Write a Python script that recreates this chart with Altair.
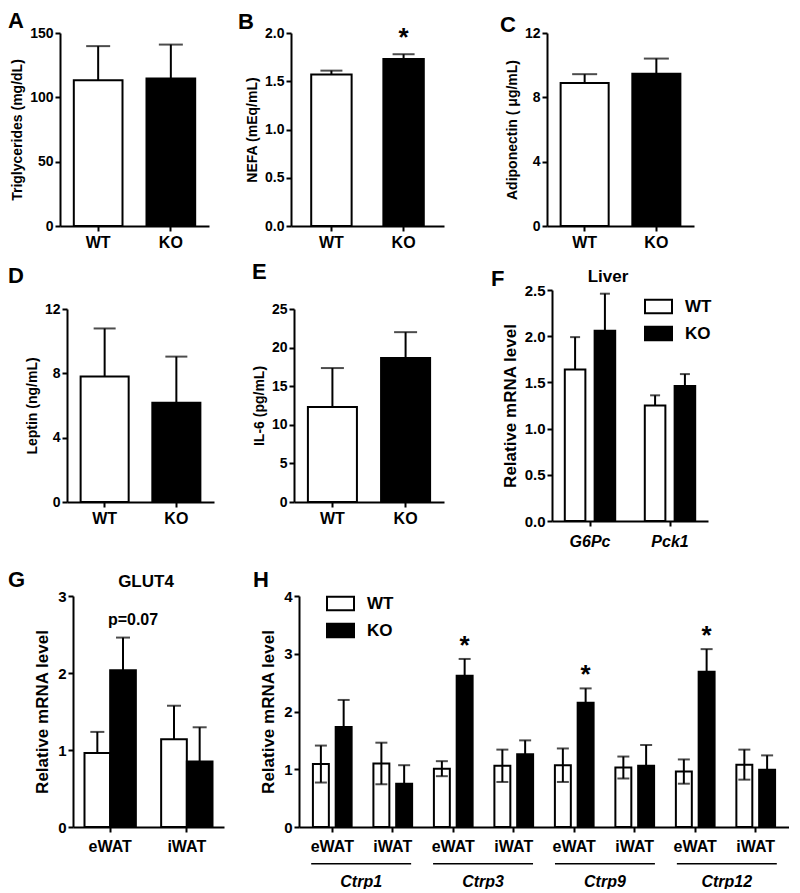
import altair as alt
import pandas as pd

GROUPS = ["WT", "KO"]
FILLS = ["white", "black"]

# ---- data ----
A_MEAN = [113.3, 114.6]
A_TOP = [139.8, 141.0]
B_MEAN = [1.57, 1.73]
B_TOP = [1.61, 1.78]
C_MEAN = [8.89, 9.46]
C_TOP = [9.44, 10.41]
D_MEAN = [7.81, 6.17]
D_TOP = [10.79, 9.04]
E_MEAN = [12.3, 18.65]
E_TOP = [17.35, 22.0]
E_TICKS = [0, 5, 10, 15, 20, 25]

F_GENES = ["G6Pc", "Pck1"]
F_WT_MEAN = [1.64, 1.25]
F_WT_TOP = [1.99, 1.36]
F_KO_MEAN = [2.06, 1.46]
F_KO_TOP = [2.46, 1.59]

G_TISSUES = ["eWAT", "iWAT"]
G_WT_MEAN = [0.96, 1.14]
G_WT_TOP = [1.235, 1.575]
G_KO_MEAN = [2.035, 0.85]
G_KO_TOP = [2.46, 1.295]

H_GENES = ["Ctrp1", "Ctrp3", "Ctrp9", "Ctrp12"]
H_TISSUES = ["eWAT", "iWAT"]
H_WT_MEAN = [1.09, 1.10, 1.01, 1.06, 1.07, 1.03, 0.96, 1.08]
H_WT_TOP = [1.41, 1.46, 1.14, 1.34, 1.36, 1.22, 1.17, 1.34]
H_KO_MEAN = [1.73, 0.75, 2.62, 1.26, 2.15, 1.06, 2.69, 0.99]
H_KO_TOP = [2.20, 1.07, 2.91, 1.50, 2.40, 1.42, 3.08, 1.24]
H_STARS = ["Ctrp3|eWAT", "Ctrp9|eWAT", "Ctrp12|eWAT"]


def letter_layer(letter, lx, ly):
    return alt.Chart(pd.DataFrame({"t": [letter]})).mark_text(
        fontSize=22, fontWeight="bold", align="left", baseline="alphabetic", color="black"
    ).encode(text="t:N", x=alt.value(lx), y=alt.value(ly))


def note_layer(text, cx, by, size):
    return alt.Chart(pd.DataFrame({"t": [text]})).mark_text(
        fontSize=size, fontWeight="bold", align="center", baseline="alphabetic", color="black"
    ).encode(text="t:N", x=alt.value(cx), y=alt.value(by))


def spacer(w, h):
    return alt.Chart(pd.DataFrame({"v": [0]})).mark_point(opacity=0).encode(
        x=alt.X("v:Q", axis=None), y=alt.Y("v:Q", axis=None)
    ).properties(width=w, height=h)


def simple_panel(letter, lpos, title, means, tops, ymax, ticks, fmt, w, h, pi, po, cap, star_dy=None):
    df = pd.DataFrame({"g": GROUPS, "v": means, "hi": tops})
    x = alt.X("g:N", sort=GROUPS,
              scale=alt.Scale(domain=GROUPS, paddingInner=pi, paddingOuter=po),
              axis=alt.Axis(title=None, labelAngle=0, labelFontSize=16, labelPadding=3))
    y = alt.Y("v:Q", scale=alt.Scale(domain=[0, ymax], nice=False),
              axis=alt.Axis(title=title, values=ticks, tickCount=len(ticks), format=fmt,
                            labelFontSize=14, titleFontSize=14, labelPadding=2, titlePadding=5,
                            labelFlush=False, labelOverlap=False))
    base = alt.Chart(df)
    bars = base.mark_bar(stroke="black", strokeWidth=2).encode(
        x=x, y=y,
        fill=alt.Fill("g:N", scale=alt.Scale(domain=GROUPS, range=FILLS), legend=None))
    err = base.mark_rule(color="black", strokeWidth=2).encode(x=x, y="v:Q", y2="hi:Q")
    caps = base.mark_tick(color="black", thickness=2, size=cap).encode(x=x, y="hi:Q")
    layers = [bars, err, caps]
    if star_dy is not None:
        sdf = pd.DataFrame({"g": ["KO"], "hi": [tops[1]], "s": ["*"]})
        layers.append(alt.Chart(sdf).mark_text(
            fontSize=26, fontWeight="bold", baseline="alphabetic", dy=star_dy, color="black"
        ).encode(x=x, y="hi:Q", text="s:N"))
    layers.append(letter_layer(letter, *lpos))
    return alt.layer(*layers).properties(width=w, height=h)


def legend_spec(lx, ly):
    return alt.Legend(title=None, orient="none", legendX=lx, legendY=ly,
                      symbolType="M-1,-0.5L1,-0.5L1,0.5L-1,0.5Z", symbolSize=729,
                      symbolStrokeColor="black", symbolStrokeWidth=2,
                      labelFontSize=17, labelFontWeight="bold", labelColor="black",
                      labelOffset=12, rowPadding=1, padding=0)


# ---------------- row 1 & 2 simple panels ----------------
H1 = 193
A = simple_panel("A", (-52, -5), "Triglycerides (mg/dL)", A_MEAN, A_TOP, 150, [0, 50, 100, 150], "d",
                 149, H1, 0.33, 0.19, 24)
B = simple_panel("B", (-53, -4), "NEFA (mEq/mL)", B_MEAN, B_TOP, 2.0, [0, 0.5, 1.0, 1.5, 2.0], ".1f",
                 153, H1, 0.44, 0.28, 22, star_dy=-8)
C = simple_panel("C", (-47, -1), "Adiponectin ( μg/mL)", C_MEAN, C_TOP, 12, [0, 4, 8, 12], "d",
                 147, H1, 0.33, 0.19, 25)
D = simple_panel("D", (-59, -26), "Leptin (ng/mL)", D_MEAN, D_TOP, 12, [0, 4, 8, 12], "d",
                 147, H1, 0.33, 0.19, 22)
E = simple_panel("E", (-42, -30), "IL-6 (pg/mL)", E_MEAN, E_TOP, 25, E_TICKS, "d",
                 150, H1, 0.33, 0.19, 23)

# ---------------- panel F ----------------
HF = 231
fdf = pd.DataFrame({"cat": F_GENES * 2, "grp": ["WT"] * 2 + ["KO"] * 2,
                    "v": F_WT_MEAN + F_KO_MEAN, "hi": F_WT_TOP + F_KO_TOP})
xF = alt.X("cat:N", sort=F_GENES,
           scale=alt.Scale(domain=F_GENES, paddingInner=0.37, paddingOuter=0.16),
           axis=alt.Axis(title=None, labelAngle=0, labelFontSize=16, labelFontStyle="italic",
                         labelPadding=7))
xoF = alt.XOffset("grp:N", sort=GROUPS,
                  scale=alt.Scale(domain=GROUPS, paddingInner=0.31, paddingOuter=0))
F_TICKS = [0, 0.5, 1.0, 1.5, 2.0, 2.5]
yF = alt.Y("v:Q", scale=alt.Scale(domain=[0, 2.5], nice=False),
           axis=alt.Axis(title="Relative mRNA level", values=F_TICKS, tickCount=len(F_TICKS),
                         format=".1f", labelFontSize=15, titleFontSize=17, labelPadding=2,
                         titlePadding=5, labelFlush=False, labelOverlap=False))
fb = alt.Chart(fdf)
F = alt.layer(
    fb.mark_bar(stroke="black", strokeWidth=2).encode(
        x=xF, xOffset=xoF, y=yF,
        fill=alt.Fill("grp:N", sort=GROUPS, scale=alt.Scale(domain=GROUPS, range=FILLS),
                      legend=legend_spec(92, 2))),
    fb.mark_rule(color="black", strokeWidth=2).encode(x=xF, xOffset=xoF, y="v:Q", y2="hi:Q"),
    fb.mark_tick(color="black", thickness=2, size=10).encode(x=xF, xOffset=xoF, y="hi:Q"),
    note_layer("Liver", 56, -8, 17),
    letter_layer("F", -61, -4),
).properties(width=156, height=HF)

# ---------------- panel G ----------------
gdf = pd.DataFrame({"cat": G_TISSUES * 2, "grp": ["WT"] * 2 + ["KO"] * 2,
                    "v": G_WT_MEAN + G_KO_MEAN, "hi": G_WT_TOP + G_KO_TOP})
xG = alt.X("cat:N", sort=G_TISSUES,
           scale=alt.Scale(domain=G_TISSUES, paddingInner=0.33, paddingOuter=0.15),
           axis=alt.Axis(title=None, labelAngle=0, labelFontSize=16, labelPadding=6))
xoG = alt.XOffset("grp:N", sort=GROUPS,
                  scale=alt.Scale(domain=GROUPS, paddingInner=0.0, paddingOuter=0))
yG = alt.Y("v:Q", scale=alt.Scale(domain=[0, 3], nice=False),
           axis=alt.Axis(title="Relative mRNA level", values=[0, 1, 2, 3], tickCount=4, format="d",
                         labelFontSize=15, titleFontSize=17, labelPadding=2, titlePadding=6,
                         labelFlush=False, labelOverlap=False))
gb = alt.Chart(gdf)
pdf = pd.DataFrame({"cat": ["eWAT"], "grp": ["KO"], "hi": [G_KO_TOP[0]], "t": ["p=0.07"]})
G = alt.layer(
    gb.mark_bar(stroke="black", strokeWidth=2).encode(
        x=xG, xOffset=xoG, y=yG,
        fill=alt.Fill("grp:N", sort=GROUPS, scale=alt.Scale(domain=GROUPS, range=FILLS), legend=None)),
    gb.mark_rule(color="black", strokeWidth=2).encode(x=xG, xOffset=xoG, y="v:Q", y2="hi:Q"),
    gb.mark_tick(color="black", thickness=2, size=14).encode(x=xG, xOffset=xoG, y="hi:Q"),
    alt.Chart(pdf).mark_text(fontSize=16, fontWeight="bold", baseline="alphabetic", dx=10, dy=-13,
                             color="black").encode(x=xG, xOffset=xoG, y="hi:Q", text="t:N"),
    note_layer("GLUT4", 73, -9, 17),
    letter_layer("G", -65, -9),
).properties(width=151, height=HF)

# ---------------- panel H ----------------
H_CATS = [f"{g}|{t}" for g in H_GENES for t in H_TISSUES]
hdf = pd.DataFrame({
    "cat": H_CATS * 2,
    "grp": ["WT"] * 8 + ["KO"] * 8,
    "v": H_WT_MEAN + H_KO_MEAN,
    "hi": H_WT_TOP + H_KO_TOP,
})
hdf["lo"] = 2 * hdf["v"] - hdf["hi"]
xH = alt.X("cat:N", sort=H_CATS,
           scale=alt.Scale(domain=H_CATS, paddingInner=0.36, paddingOuter=0.23),
           axis=alt.Axis(title=None, labelAngle=0, labelFontSize=16, labelPadding=6,
                         labelExpr="split(datum.label, '|')[1]"))
xoH = alt.XOffset("grp:N", sort=GROUPS,
                  scale=alt.Scale(domain=GROUPS, paddingInner=0.3, paddingOuter=0))
yH = alt.Y("v:Q", scale=alt.Scale(domain=[0, 4], nice=False),
           axis=alt.Axis(title="Relative mRNA level", values=[0, 1, 2, 3, 4], tickCount=5, format="d",
                         labelFontSize=15, titleFontSize=17, labelPadding=2, titlePadding=6,
                         labelFlush=False, labelOverlap=False))
hb = alt.Chart(hdf)
star_df = hdf[(hdf["grp"] == "KO") & (hdf["cat"].isin(H_STARS))].copy()
star_df["s"] = "*"
HH = 231
H_main = alt.layer(
    hb.mark_bar(stroke="black", strokeWidth=2).encode(
        x=xH, xOffset=xoH, y=yH,
        fill=alt.Fill("grp:N", sort=GROUPS, scale=alt.Scale(domain=GROUPS, range=FILLS),
                      legend=legend_spec(27, -7))),
    hb.mark_rule(color="black", strokeWidth=2).encode(x=xH, xOffset=xoH, y="lo:Q", y2="hi:Q"),
    hb.mark_tick(color="black", thickness=2, size=12).encode(x=xH, xOffset=xoH, y="hi:Q"),
    hb.mark_tick(color="black", thickness=2, size=12).encode(x=xH, xOffset=xoH, y="lo:Q"),
    alt.Chart(star_df).mark_text(fontSize=26, fontWeight="bold", baseline="alphabetic", dy=-5,
                                 color="black").encode(x=xH, xOffset=xoH, y="hi:Q", text="s:N"),
    letter_layer("H", -46, -9),
)
gene_df = pd.DataFrame({"gene": H_GENES})
H_genes = alt.Chart(gene_df).mark_rect(color="black").encode(
    x=alt.X("gene:N", sort=H_GENES,
            scale=alt.Scale(domain=H_GENES, paddingInner=0.18, paddingOuter=0.10),
            axis=alt.Axis(orient="bottom", title=None, domain=False, ticks=False, tickSize=0,
                          labelAngle=0, labelFontSize=16, labelFontStyle="italic",
                          labelPadding=46)),
    y=alt.value(HH + 36),
    y2=alt.value(HH + 37.5),
)
H = alt.layer(H_main, H_genes).resolve_scale(x="independent").properties(width=490, height=HH)


def res(c):
    return c.resolve_scale(x="independent", y="independent", fill="independent",
                           xOffset="independent").resolve_legend(fill="independent")


row1 = res(alt.hconcat(A, spacer(82, 1), B, spacer(103, 1), C, spacing=0, bounds="flush"))
row2 = res(alt.hconcat(spacer(7, 1), D, spacer(80, 1), E, spacer(108, 1), F,
                       spacing=0, bounds="flush", center=True))
row3 = res(alt.hconcat(spacer(13, 1), G, spacer(75, 1), H, spacing=0, bounds="flush"))

top = res(alt.vconcat(res(alt.vconcat(row1, row2, spacing=11)), row3, spacing=20))

chart = top.properties(padding={"left": 0, "top": 2, "right": 0, "bottom": 0}).configure(
    font="Liberation Sans"
).configure_view(
    stroke=None
).configure_axis(
    domainColor="black", domainWidth=2, tickColor="black", tickWidth=2, tickSize=5,
    labelColor="black", titleColor="black", labelFontWeight="bold", titleFontWeight="bold",
    grid=False, labelOverlap=False,
)

chart.save("out.html", embed_options={"renderer": "svg", "actions": False})
